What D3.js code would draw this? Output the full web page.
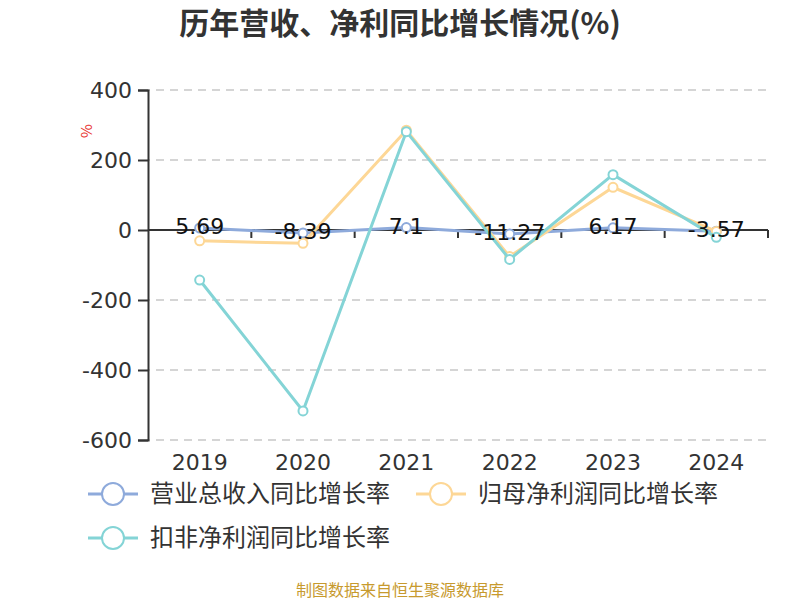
<!DOCTYPE html>
<html>
<head>
<meta charset="utf-8">
<script src="https://cdn.jsdelivr.net/npm/d3@7"></script>
<style>
  body { margin: 0; background: #fff; }
  svg { font-family: "Noto Sans CJK SC", "Noto Sans", sans-serif; }
</style>
</head>
<body>
<svg id="chart" width="800" height="600"></svg>
<script>
const years = ["2019", "2020", "2021", "2022", "2023", "2024"];
const revenueGrowth = [5.69, -8.39, 7.1, -11.27, 6.17, -3.57];
const netProfitGrowth = [-31, -38, 285, -76, 122, -4];
const deductedProfitGrowth = [-143, -517, 281, -84, 158, -21];
const yTicks = [-600, -400, -200, 0, 200, 400];

const width = 800;
const margin = { top: 90, right: 32, bottom: 160, left: 148 };
const height = 600;

const series = [
  { name: "营业总收入同比增长率", values: revenueGrowth, color: "#8eaadb" },
  { name: "归母净利润同比增长率", values: netProfitGrowth, color: "#fdd796" },
  { name: "扣非净利润同比增长率", values: deductedProfitGrowth, color: "#84d4d6" },
];

const svg = d3.select("#chart");

const x = d3.scaleBand()
  .domain(years)
  .range([margin.left, width - margin.right]);

const y = d3.scaleLinear()
  .domain([-600, 400])
  .range([height - margin.bottom, margin.top]);

// title
svg.append("text")
  .attr("x", 400)
  .attr("y", 34)
  .attr("text-anchor", "middle")
  .attr("font-size", 30)
  .attr("font-weight", "bold")
  .attr("fill", "#333")
  .text("历年营收、净利同比增长情况(%)");

// grid
svg.append("g")
  .selectAll("line")
  .data(yTicks.filter((t) => t !== 0))
  .join("line")
  .attr("x1", margin.left)
  .attr("x2", width - margin.right)
  .attr("y1", (d) => y(d))
  .attr("y2", (d) => y(d))
  .attr("stroke", "#c8c8c8")
  .attr("stroke-width", 1.3)
  .attr("stroke-dasharray", "8,6")
  .attr("stroke-dashoffset", -8);

// y axis
const yAxis = svg.append("g")
  .attr("transform", `translate(${margin.left},0)`)
  .call(d3.axisLeft(y).tickValues(yTicks).tickSize(10).tickPadding(6).tickFormat((d) => String(d)));
yAxis.select(".domain").attr("stroke", "#333").attr("stroke-width", 2);
yAxis.selectAll(".tick line").attr("stroke", "#333").attr("stroke-width", 2);
yAxis.selectAll(".tick text")
  .attr("font-size", 22)
  .attr("fill", "#333")
  .attr("font-family", "'DejaVu Sans', sans-serif");

// x axis at zero
const xAxis = svg.append("g")
  .attr("transform", `translate(0,${y(0)})`);
xAxis.append("line")
  .attr("x1", margin.left)
  .attr("x2", width - margin.right)
  .attr("stroke", "#333")
  .attr("stroke-width", 2);
const bounds = years.map((d) => x(d) + x.bandwidth());
xAxis.selectAll(".tk")
  .data(bounds)
  .join("line")
  .attr("class", "tk")
  .attr("x1", (d) => d)
  .attr("x2", (d) => d)
  .attr("y1", 0)
  .attr("y2", 8)
  .attr("stroke", "#333")
  .attr("stroke-width", 2);

svg.append("g")
  .selectAll("text")
  .data(years)
  .join("text")
  .attr("x", (d) => x(d) + x.bandwidth() / 2)
  .attr("y", 470)
  .attr("text-anchor", "middle")
  .attr("font-size", 22)
  .attr("fill", "#333")
  .attr("font-family", "'DejaVu Sans', sans-serif")
  .text((d) => d);

// unit label
svg.append("text")
  .attr("transform", "translate(92,131) rotate(-90)")
  .attr("text-anchor", "middle")
  .attr("font-size", 15)
  .attr("fill", "#e8312f")
  .text("%");

const line = d3.line()
  .x((d, i) => x(years[i]) + x.bandwidth() / 2)
  .y((d) => y(d));

series.forEach((s) => {
  const g = svg.append("g");
  g.append("path")
    .datum(s.values)
    .attr("fill", "none")
    .attr("stroke", s.color)
    .attr("stroke-width", 3)
    .attr("d", line);
  g.selectAll("circle")
    .data(s.values)
    .join("circle")
    .attr("cx", (d, i) => x(years[i]) + x.bandwidth() / 2)
    .attr("cy", (d) => y(d))
    .attr("r", 4.5)
    .attr("fill", "#fff")
    .attr("stroke", s.color)
    .attr("stroke-width", 2);
});

// data labels for revenue
svg.append("g")
  .selectAll("text")
  .data(revenueGrowth)
  .join("text")
  .attr("x", (d, i) => x(years[i]) + x.bandwidth() / 2)
  .attr("y", (d) => y(d) + 6)
  .attr("text-anchor", "middle")
  .attr("font-size", 22)
  .attr("fill", "#111")
  .attr("font-family", "'DejaVu Sans', sans-serif")
  .text((d) => d);

// legend
const legendPos = [
  { x: 88, y: 494 },
  { x: 416, y: 494 },
  { x: 88, y: 538 },
];
series.forEach((s, i) => {
  const p = legendPos[i];
  const g = svg.append("g").attr("transform", `translate(${p.x},${p.y})`);
  g.append("line")
    .attr("x1", 0).attr("x2", 50)
    .attr("stroke", s.color).attr("stroke-width", 3);
  g.append("circle")
    .attr("cx", 25).attr("r", 11)
    .attr("fill", "#fff")
    .attr("stroke", s.color).attr("stroke-width", 2);
  g.append("text")
    .attr("x", 62)
    .attr("y", 0)
    .attr("dy", "0.35em")
    .attr("font-size", 24)
    .attr("fill", "#333")
    .text(s.name);
});

// source
svg.append("text")
  .attr("x", 400)
  .attr("y", 596)
  .attr("text-anchor", "middle")
  .attr("font-size", 16)
  .attr("fill", "#c79a2e")
  .text("制图数据来自恒生聚源数据库");
</script>
</body>
</html>
